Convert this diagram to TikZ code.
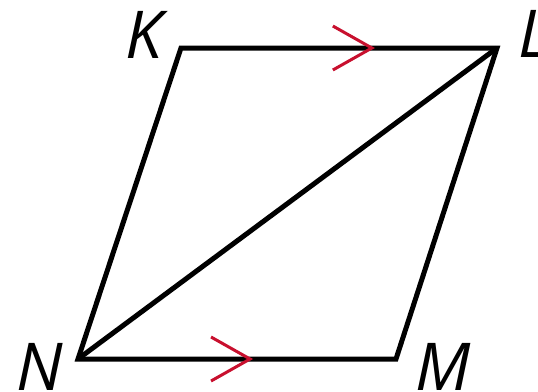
\documentclass[tikz,border=0pt]{standalone}
\usepackage{fontspec}
\setmainfont{Open Sans}
\usepackage{xcolor}
\usetikzlibrary{decorations.markings}
\definecolor{myred}{RGB}{200,16,46}
\tikzset{
  edge/.style={line width=5pt, color=black},
  parmark/.style={postaction={decorate, decoration={markings,
    mark=at position #1 with {\draw[myred, line width=3pt] (-39pt,22pt) -- (0pt,0pt) -- (-39pt,-22pt);}}}},
  vlabel/.style={font=\fontsize{66}{66}\selectfont\itshape, inner sep=0pt, anchor=base}
}
\begin{document}
\begin{tikzpicture}[x=1pt, y=-1pt]
  \useasboundingbox (0,0) rectangle (538,391);
  \clip (0,0) rectangle (538,391);

  % Vertices of the parallelogram
  \coordinate (K) at (181,48);
  \coordinate (L) at (497,48);
  \coordinate (M) at (396,359);
  \coordinate (N) at (78,359);

  % Vertex labels
  \node[vlabel] (lK) at (144,58) {K};
  \node[vlabel] (lL) at (534,57) {L};
  \node[vlabel] (lN) at (40,390) {N};
  \node[vlabel] (lM) at (443,390) {M};

  % Sides and diagonal
  \draw[edge] (K) -- (L) -- (M) -- (N) -- cycle;
  \draw[edge] (N) -- (L);

  % Parallel marks
  \path[parmark=0.604] (K) -- (L);
  \path[parmark=0.541] (N) -- (M);
\end{tikzpicture}
\end{document}
